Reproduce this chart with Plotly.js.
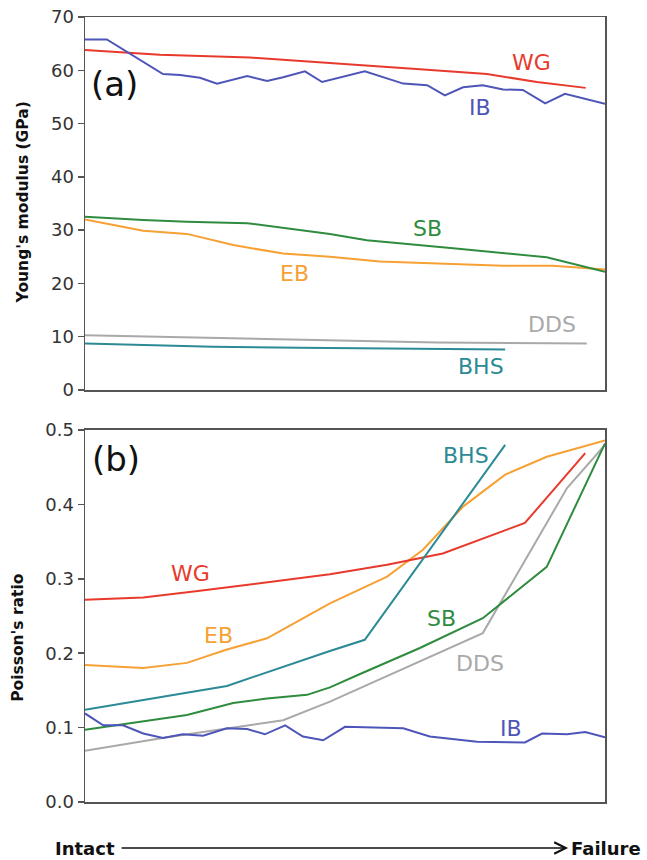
<!DOCTYPE html>
<html>
<head>
<meta charset="utf-8">
<script src="https://cdn.plot.ly/plotly-3.0.1.min.js"></script>
<style>html,body{margin:0;padding:0;background:#fff;}#chart{width:647px;height:860px;}</style>
</head>
<body>
<div id="chart"></div>
<script>
// Progress from intact (0) to failure (1)
// ---- Panel (a): Young's modulus (GPa) ----
const wgE_x  = [0, 0.144, 0.317, 0.471, 0.644, 0.773, 0.869, 0.963];
const wgE_y  = [63.8, 62.9, 62.4, 61.3, 60.2, 59.3, 57.8, 56.7];
const ibE_x  = [0, 0.042, 0.150, 0.183, 0.221, 0.254, 0.312, 0.350, 0.381, 0.423, 0.456, 0.538, 0.612, 0.658, 0.692, 0.727, 0.765, 0.804, 0.842, 0.885, 0.923, 1];
const ibE_y  = [65.8, 65.8, 59.3, 59.1, 58.6, 57.5, 58.9, 58.0, 58.7, 59.8, 57.8, 59.8, 57.5, 57.2, 55.3, 56.8, 57.2, 56.4, 56.3, 53.8, 55.6, 53.7];
const sbE_x  = [0, 0.112, 0.196, 0.312, 0.471, 0.542, 0.708, 0.888, 1];
const sbE_y  = [32.5, 31.9, 31.6, 31.3, 29.3, 28.1, 26.6, 24.9, 22.2];
const ebE_x  = [0, 0.112, 0.196, 0.285, 0.381, 0.471, 0.567, 0.804, 0.900, 1];
const ebE_y  = [32.0, 29.9, 29.3, 27.2, 25.6, 25.0, 24.1, 23.3, 23.3, 22.6];
const ddsE_x = [0, 0.471, 0.677, 0.965];
const ddsE_y = [10.3, 9.25, 8.9, 8.75];
const bhsE_x = [0, 0.246, 0.413, 0.581, 0.677, 0.808];
const bhsE_y = [8.75, 8.1, 7.95, 7.8, 7.6, 7.6];

// ---- Panel (b): Poisson's ratio ----
const wgV_x  = [0, 0.112, 0.221, 0.471, 0.581, 0.688, 0.846, 0.962];
const wgV_y  = [0.272, 0.275, 0.284, 0.306, 0.319, 0.334, 0.375, 0.469];
const ebV_x  = [0, 0.112, 0.196, 0.273, 0.350, 0.471, 0.581, 0.650, 0.727, 0.808, 0.888, 1];
const ebV_y  = [0.184, 0.180, 0.187, 0.205, 0.220, 0.267, 0.303, 0.339, 0.397, 0.440, 0.464, 0.486];
const bhsV_x = [0, 0.273, 0.471, 0.538, 0.808];
const bhsV_y = [0.124, 0.156, 0.203, 0.218, 0.480];
const sbV_x  = [0, 0.196, 0.285, 0.350, 0.427, 0.471, 0.529, 0.644, 0.765, 0.888, 1];
const sbV_y  = [0.097, 0.117, 0.133, 0.139, 0.144, 0.154, 0.172, 0.207, 0.247, 0.316, 0.482];
const ddsV_x = [0, 0.158, 0.381, 0.471, 0.765, 0.927, 1];
const ddsV_y = [0.069, 0.087, 0.110, 0.135, 0.227, 0.422, 0.480];
const ibV_x  = [0, 0.035, 0.073, 0.112, 0.150, 0.188, 0.227, 0.273, 0.312, 0.346, 0.385, 0.419, 0.458, 0.500, 0.612, 0.663, 0.754, 0.846, 0.879, 0.927, 0.962, 1];
const ibV_y  = [0.119, 0.103, 0.103, 0.092, 0.086, 0.091, 0.089, 0.099, 0.098, 0.091, 0.103, 0.088, 0.083, 0.101, 0.099, 0.088, 0.081, 0.080, 0.092, 0.091, 0.094, 0.087];

// Series labels (text, x, y) per panel
const labelsA = [["WG", 0.858, 61.5], ["IB", 0.760, 53.1], ["SB", 0.658, 30.3], ["EB", 0.402, 21.95], ["DDS", 0.898, 12.3], ["BHS", 0.762, 4.5]];
const labelsB = [["BHS", 0.733, 0.466], ["WG", 0.202, 0.307], ["EB", 0.256, 0.2235], ["SB", 0.685, 0.246], ["DDS", 0.760, 0.1855], ["IB", 0.819, 0.0988]];

const C = {WG: "#e83a2c", IB: "#4e55b8", SB: "#2f8c3f", EB: "#f7a033", DDS: "#a9a9a9", BHS: "#2b8a94"};

function tr(x, y, name, ax) {
  return {x: x, y: y, type: "scatter", mode: "lines", name: name,
          xaxis: ax === 2 ? "x2" : "x", yaxis: ax === 2 ? "y2" : "y",
          line: {color: C[name], width: 2}, hoverinfo: "skip"};
}

const data = [
  tr(ddsE_x, ddsE_y, "DDS", 1), tr(bhsE_x, bhsE_y, "BHS", 1),
  tr(ebE_x, ebE_y, "EB", 1), tr(sbE_x, sbE_y, "SB", 1),
  tr(wgE_x, wgE_y, "WG", 1), tr(ibE_x, ibE_y, "IB", 1),
  tr(ddsV_x, ddsV_y, "DDS", 2), tr(sbV_x, sbV_y, "SB", 2),
  tr(ebV_x, ebV_y, "EB", 2), tr(wgV_x, wgV_y, "WG", 2),
  tr(bhsV_x, bhsV_y, "BHS", 2), tr(ibV_x, ibV_y, "IB", 2)
];

const labelFont = "DejaVu Sans, sans-serif";
const annotations = [];
labelsA.forEach(l => annotations.push({x: l[1], y: l[2], xref: "x", yref: "y", text: l[0], showarrow: false,
  font: {family: labelFont, size: 22, color: C[l[0]]}}));
labelsB.forEach(l => annotations.push({x: l[1], y: l[2], xref: "x2", yref: "y2", text: l[0], showarrow: false,
  font: {family: labelFont, size: 22, color: C[l[0]]}}));

annotations.push({x: 0.056, y: 57.4, xref: "x", yref: "y", text: "(a)", showarrow: false,
  font: {family: labelFont, size: 34, color: "#111"}});
annotations.push({x: 0.060, y: 0.461, xref: "x2", yref: "y2", text: "(b)", showarrow: false,
  font: {family: labelFont, size: 34, color: "#111"}});

// Axis titles
annotations.push({x: -0.119, y: 0.764, xref: "paper", yref: "paper", text: "Young's modulus (GPa)", showarrow: false,
  textangle: -90, xanchor: "center", yanchor: "middle", font: {family: "DejaVu Sans, sans-serif", size: 15.5, color: "#111", weight: "bold"}});
annotations.push({x: -0.129, y: 0.209, xref: "paper", yref: "paper", text: "Poisson's ratio", showarrow: false,
  textangle: -90, xanchor: "center", yanchor: "middle", font: {family: "DejaVu Sans, sans-serif", size: 15.5, color: "#111", weight: "bold"}});

// Intact -> Failure arrow
annotations.push({x: 0.929, y: -0.0586, xref: "paper", yref: "paper", text: "", showarrow: true,
  ax: -448, ay: 0, arrowhead: 5, arrowsize: 1.4, arrowwidth: 1.6, arrowcolor: "#111"});
annotations.push({x: 0.0615, y: -0.0586, xref: "paper", yref: "paper", text: "Intact", showarrow: false,
  xanchor: "right", yanchor: "middle", font: {family: "DejaVu Sans, sans-serif", size: 18, color: "#111", weight: "bold"}});
annotations.push({x: 0.931, y: -0.0586, xref: "paper", yref: "paper", text: "Failure", showarrow: false,
  xanchor: "left", yanchor: "middle", font: {family: "DejaVu Sans, sans-serif", size: 18, color: "#111", weight: "bold"}});

const xax = {range: [0, 1], showticklabels: false, ticks: "", showgrid: false, zeroline: false,
  showline: true, mirror: true, linecolor: "#555", linewidth: 1.5};
const tickFont = {family: "DejaVu Sans, sans-serif", size: 18, color: "#333"};

const layout = {
  width: 647, height: 860,
  margin: {l: 85, r: 42, t: 17, b: 58},
  paper_bgcolor: "#fff", plot_bgcolor: "#fff",
  showlegend: false,
  xaxis: Object.assign({}, xax, {domain: [0, 1], anchor: "y"}),
  xaxis2: Object.assign({}, xax, {domain: [0, 1], anchor: "y2"}),
  yaxis: {domain: [0.5248, 1], range: [0, 70], dtick: 10, ticks: "outside", ticklen: 6, tickcolor: "#555", tickwidth: 1.5,
          showgrid: false, zeroline: false, showline: true, mirror: true, linecolor: "#555", linewidth: 1.5,
          tickfont: tickFont, anchor: "x"},
  yaxis2: {domain: [0, 0.4739], range: [0, 0.5], dtick: 0.1, tickformat: ".1f", ticks: "outside", ticklen: 6, tickcolor: "#555", tickwidth: 1.5,
          showgrid: false, zeroline: false, showline: true, mirror: true, linecolor: "#555", linewidth: 1.5,
          tickfont: tickFont, anchor: "x2"},
  annotations: annotations
};

Plotly.newPlot("chart", data, layout, {displayModeBar: false, staticPlot: true});
</script>
</body>
</html>
